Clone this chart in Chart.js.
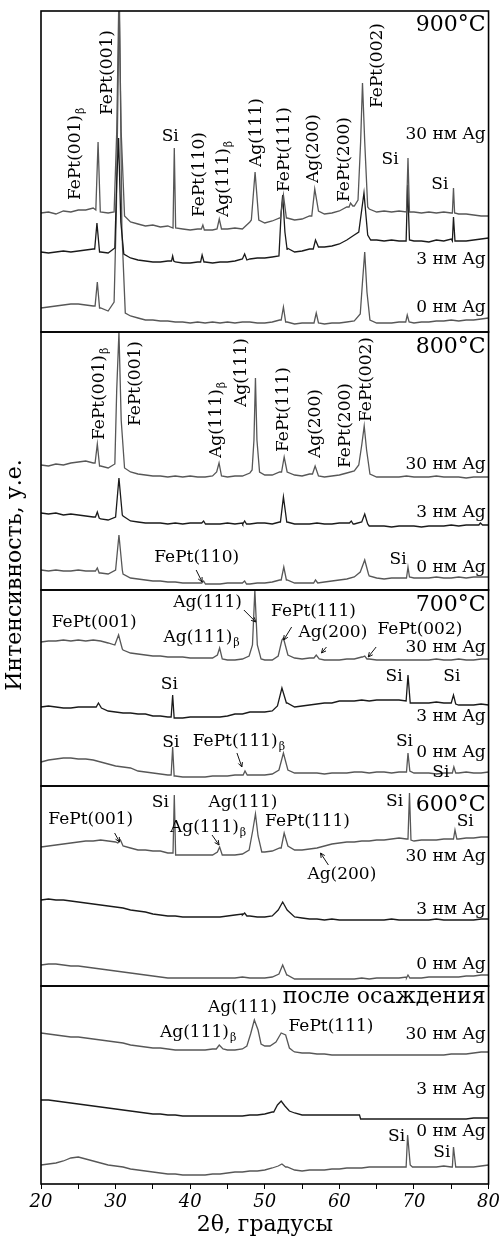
<!DOCTYPE html>
<html lang="ru">
<head>
<meta charset="UTF-8">
<title>XRD FePt / Ag</title>
<script src="https://cdn.jsdelivr.net/npm/chart.js"></script>
<style>
  html, body { margin: 0; padding: 0; background: #fff; }
</style>
</head>
<body>
<canvas id="xrd" width="503" height="1238"></canvas>
<script>
// 2θ range and tick labels
const THETA0 = 20;
const THETA1 = 80;
const tickLabels = [20, 30, 40, 50, 60, 70, 80];

// panels, top to bottom
const panelTitles = ['900°C', '800°C', '700°C', '600°C', 'после осаждения'];
const samples = ['30 нм Ag', '3 нм Ag', '0 нм Ag'];

// baselines: one value per degree, 20..80 (arb. units, counted from panel bottom)
// peaks: groups of [2θ, intensity]
const base900_30 = [119,120,118,121,120,122,122,124,120,119,120,114,110,108,106,107,105,106,104,103,102,103,102,102,103,103,104,103,110,112,109,111,114,114,112,113,116,121,118,119,121,125,126,129,123,120,121,120,121,120,120,119,120,119,120,119,118,118,117,116,116];
const peaks900_30 = [
  [[27.35,122],[27.65,190],[27.95,120]],
  [[29.8,120],[30.15,200],[30.45,340],[30.75,200],[31.2,116]],
  [[37.7,104],[37.87,184],[38.05,104]],
  [[41.5,103],[41.7,107],[41.9,102]],
  [[43.6,103],[43.9,113],[44.2,103]],
  [[48.2,112],[48.7,160],[49.2,112]],
  [[52.1,114],[52.5,137],[52.9,114]],
  [[56.3,116],[56.7,143],[57.2,121]],
  [[61.3,125],[61.5,129],[61.8,126]],
  [[62.5,132],[62.85,190],[63.1,249],[63.4,190],[63.8,125]],
  [[69.0,120],[69.2,174],[69.4,120]],
  [[75.15,119],[75.3,144],[75.45,119]]
];
const base900_3 = [80,79,80,81,80,81,82,83,80,79,84,78,74,72,71,70,70,71,70,69,69,70,70,69,70,70,71,73,73,74,74,75,76,82,80,81,83,86,85,86,88,92,97,110,92,92,91,92,91,91,91,91,90,92,91,93,91,91,92,93,94];
const peaks900_3 = [
  [[27.2,83],[27.5,109],[27.85,80]],
  [[29.9,84],[30.15,150],[30.4,194],[30.7,110],[31.1,78]],
  [[37.5,71],[37.65,76],[37.8,71]],
  [[41.4,70],[41.6,77],[41.85,70]],
  [[47.05,73],[47.3,78],[47.6,72]],
  [[51.9,76],[52.2,120],[52.4,137],[52.7,100],[53.0,84]],
  [[56.5,83],[56.8,92],[57.2,85]],
  [[62.6,100],[63.3,139],[63.8,97],[64.2,92]],
  [[68.95,91],[69.15,147],[69.4,92]],
  [[75.15,91],[75.3,115],[75.5,91]]
];
const base900_0 = [24,25,26,27,28,28,27,26,24,21,25,19,16,14,12,12,11,11,10,10,9,10,9,10,9,10,9,10,10,9,9,10,12,10,8,9,9,10,8,9,9,10,11,20,12,9,9,9,10,10,9,10,10,11,11,12,11,12,12,13,14];
const peaks900_0 = [
  [[27.25,26],[27.55,50],[27.85,24]],
  [[29.8,30],[30.1,120],[30.5,340],[30.85,100],[31.3,19]],
  [[52.2,12],[52.5,25],[52.8,10]],
  [[56.6,9],[56.9,19],[57.2,9]],
  [[62.8,18],[63.1,50],[63.4,80],[63.7,40],[64.1,12]],
  [[68.9,10],[69.1,17],[69.35,10]]
];

const base800_30 = [125,124,126,125,127,128,129,127,124,122,126,122,118,116,115,114,114,113,114,113,114,113,113,114,114,113,114,114,117,135,115,115,118,118,115,114,116,114,113,114,115,117,119,140,115,113,113,113,113,114,113,113,113,114,113,113,113,112,113,113,113];
const peaks800_30 = [
  [[27.25,127],[27.55,146],[27.85,124]],
  [[29.9,126],[30.15,200],[30.45,258],[30.75,170],[31.2,122]],
  [[43.55,118],[43.87,127],[44.2,114]],
  [[48.3,120],[48.55,150],[48.75,212],[48.95,150],[49.3,118]],
  [[52.25,118],[52.6,133],[53.0,118]],
  [[56.4,116],[56.75,124],[57.2,114]],
  [[62.6,125],[63.0,145],[63.33,164],[63.65,140],[64.1,116]]
];
const base800_3 = [77,76,77,75,76,75,74,73,71,70,73,74,69,68,67,67,67,66,67,66,67,67,66,66,66,67,66,67,66,67,67,66,68,68,66,66,66,67,66,66,67,67,66,68,64,64,64,63,64,64,64,63,64,64,64,65,64,65,65,66,65];
const peaks800_3 = [
  [[27.3,73],[27.55,78],[27.8,72]],
  [[30.0,73],[30.45,112],[30.9,75]],
  [[41.55,67],[41.8,69],[42.05,66]],
  [[47.05,66],[47.3,69],[47.55,66]],
  [[52.1,68],[52.5,93],[52.95,68]],
  [[61.35,67],[61.6,69],[61.85,66]],
  [[63.0,68],[63.4,76],[63.8,66]],
  [[78.7,65],[78.9,67],[79.2,65]]
];
const base800_0 = [20,19,20,19,19,20,19,19,17,16,20,16,12,11,10,9,9,8,8,7,7,7,6,6,6,7,7,7,6,7,7,8,10,10,7,7,7,8,8,9,10,11,13,22,14,12,11,12,12,12,12,12,12,13,12,12,13,12,13,13,13];
const peaks800_0 = [
  [[27.3,19],[27.55,22],[27.8,17]],
  [[30.0,20],[30.45,55],[30.9,20]],
  [[41.55,7],[41.8,9],[42.05,6]],
  [[47.05,7],[47.3,9],[47.55,6]],
  [[52.2,10],[52.55,23],[52.9,10]],
  [[56.55,7],[56.8,10],[57.1,7]],
  [[62.8,18],[63.4,30],[63.9,16]],
  [[69.0,12],[69.2,23],[69.4,13]]
];

const base700_30 = [144,145,145,146,145,146,145,146,145,143,141,136,133,132,131,130,130,129,129,129,128,128,128,128,127,126,126,127,128,130,126,126,130,131,128,127,128,128,126,126,126,127,127,129,127,126,126,126,126,126,126,126,126,127,126,126,127,126,126,127,127];
const peaks700_30 = [
  [[29.9,141],[30.4,151],[30.9,137]],
  [[43.65,131],[43.95,138],[44.3,127]],
  [[47.9,130],[48.35,141],[48.67,196],[49.0,141],[49.5,127]],
  [[51.8,130],[52.3,146],[52.5,148],[53.1,131]],
  [[56.6,128],[56.9,131],[57.3,127]],
  [[63.1,129],[63.4,130],[63.7,127]]
];
const base700_3 = [79,80,79,78,78,79,79,79,80,75,74,73,73,72,72,70,70,69,68,68,69,69,69,69,69,70,72,72,74,74,74,75,90,83,79,80,81,82,83,83,85,85,85,86,85,86,86,86,86,85,83,83,83,84,83,83,81,81,81,82,81];
const peaks700_3 = [
  [[27.4,79],[27.7,83],[28.1,78]],
  [[37.45,69],[37.65,91],[37.85,68]],
  [[51.7,80],[52.3,98],[52.9,83]],
  [[68.95,85],[69.2,111],[69.5,83]],
  [[75.1,83],[75.3,91],[75.6,82]]
];
const base700_0 = [24,26,27,28,28,27,27,26,24,22,20,19,18,15,14,13,12,11,10,9,9,9,9,10,10,10,11,11,11,11,11,12,20,16,13,13,13,13,12,13,13,13,14,14,13,14,14,13,14,14,13,13,13,12,13,13,13,14,13,13,14];
const peaks700_0 = [
  [[37.45,11],[37.65,39],[37.85,10]],
  [[47.1,11],[47.35,15],[47.65,11]],
  [[51.9,16],[52.5,33],[53.1,16]],
  [[69.0,14],[69.2,33],[69.45,15]],
  [[75.15,13],[75.35,19],[75.6,13]]
];

const base600_30 = [139,140,141,142,143,144,145,145,146,145,144,140,138,136,136,135,135,133,131,131,131,131,131,131,131,131,131,132,136,150,134,135,138,140,136,136,137,138,140,142,143,144,144,145,145,146,146,147,148,147,145,146,146,146,147,147,147,148,148,149,149];
const peaks600_30 = [
  [[30.3,143],[30.65,146],[31.0,140]],
  [[37.7,133],[37.87,191],[38.05,131]],
  [[43.65,134],[43.95,139],[44.3,131]],
  [[47.9,136],[48.4,156],[48.75,172],[49.1,150],[49.6,134]],
  [[52.2,138],[52.6,153],[53.1,140]],
  [[69.2,147],[69.4,193],[69.6,146]],
  [[75.3,147],[75.5,156],[75.75,147]]
];
const base600_3 = [86,87,86,86,85,84,83,82,81,80,79,78,76,75,74,72,71,70,70,69,69,69,69,69,69,70,71,72,70,69,69,70,82,76,69,68,67,67,66,67,66,66,66,66,66,66,66,67,66,66,66,66,66,67,66,66,66,66,66,67,67];
const peaks600_3 = [
  [[47.0,71],[47.3,73],[47.6,70]],
  [[51.8,76],[52.4,84],[53.0,76]]
];
const base600_0 = [21,22,22,21,20,20,19,18,17,16,15,14,13,12,11,10,9,8,8,8,8,8,8,8,8,8,8,9,8,8,8,9,18,11,7,7,7,7,7,7,7,7,7,8,7,8,8,8,8,9,8,8,9,9,9,9,9,10,10,11,11];
const peaks600_0 = [
  [[51.9,12],[52.4,21],[52.95,11]],
  [[69.0,8],[69.2,11],[69.45,8]]
];

const baseDep_30 = [151,150,149,148,147,147,146,145,144,143,142,141,139,138,137,136,136,135,134,134,134,134,134,135,137,134,134,135,148,156,138,140,149,140,132,131,131,130,130,129,129,129,129,129,129,129,129,129,129,129,129,129,129,129,129,130,130,130,131,132,132];
const peaksDep_30 = [
  [[43.5,135],[43.9,139],[44.4,135]],
  [[47.6,138],[48.1,150],[48.6,164],[49.1,154],[49.5,140],[50.0,138]],
  [[50.7,138],[51.5,142],[52.2,151],[52.8,149],[53.3,136],[53.8,133]]
];
const baseDep_3 = [84,84,83,82,81,80,79,78,77,76,75,74,73,72,71,70,70,69,69,68,68,68,68,68,68,68,68,68,69,69,70,72,83,73,71,69,69,69,69,69,69,69,69,65,65,65,65,65,65,65,65,65,65,65,65,65,65,65,66,66,66];
const peaksDep_3 = [
  [[51.2,72],[51.7,79],[52.2,83],[52.7,78],[53.3,73]],
  [[62.7,69],[62.85,65]]
];
const baseDep_0 = [19,20,21,23,26,27,25,23,21,19,18,17,15,14,13,12,11,10,10,9,9,9,9,10,10,11,12,12,13,13,14,16,20,17,14,13,14,14,14,15,15,16,16,16,17,17,17,17,17,17,17,17,17,17,18,17,17,17,17,18,19];
const peaksDep_0 = [
  [[51.8,18],[52.3,20],[52.8,17]],
  [[68.95,17],[69.15,49],[69.5,19],[69.8,17]],
  [[75.15,17],[75.3,37],[75.6,17]]
];

const traces = [
  [[base900_30, peaks900_30], [base900_3, peaks900_3], [base900_0, peaks900_0]],
  [[base800_30, peaks800_30], [base800_3, peaks800_3], [base800_0, peaks800_0]],
  [[base700_30, peaks700_30], [base700_3, peaks700_3], [base700_0, peaks700_0]],
  [[base600_30, peaks600_30], [base600_3, peaks600_3], [base600_0, peaks600_0]],
  [[baseDep_30, peaksDep_30], [baseDep_3, peaksDep_3], [baseDep_0, peaksDep_0]]
];

// layout
const PANEL_H = [321, 258, 196, 200, 198];
const LINE_COLORS = ['#575757', '#1a1a1a', '#575757'];
const SERIF = '"DejaVu Serif", "Liberation Serif", serif';

// merge baseline and peak groups (baseline points inside a peak group are dropped)
function buildTrace(base, peaks) {
  const pts = [];
  base.forEach((v, i) => {
    const t = THETA0 + i;
    const inside = peaks.some(g => t > g[0][0] && t < g[g.length - 1][0]);
    if (!inside) pts.push({ x: t, y: v });
  });
  peaks.forEach(g => g.forEach(p => pts.push({ x: p[0], y: p[1] })));
  return pts.sort((a, b) => a.x - b.x);
}

const datasets = [];
traces.forEach((panel, pi) => {
  panel.forEach((tr, si) => {
    datasets.push({
      label: panelTitles[pi] + ' ' + samples[si],
      data: buildTrace(tr[0], tr[1]),
      yAxisID: 'p' + pi,
      borderColor: LINE_COLORS[si],
      borderWidth: 1.3,
      pointRadius: 0,
      tension: 0
    });
  });
});

// annotations: [panel, 2θ, intensity, text, subscript, mode]  mode: r = rotated, c = centred, R = right
const R = 79.6;
const notes = [
  [0, 24.7, 132, 'FePt(001)', 'β', 'r'],
  [0, 28.87, 217, 'FePt(001)', '', 'r'],
  [0, 37.33, 195, 'Si', '', 'c'],
  [0, 41.2, 115, 'FePt(110)', '', 'r'],
  [0, 44.5, 115, 'Ag(111)', 'β', 'r'],
  [0, 48.93, 165, 'Ag(111)', '', 'r'],
  [0, 52.67, 140, 'FePt(111)', '', 'r'],
  [0, 56.53, 149, 'Ag(200)', '', 'r'],
  [0, 60.67, 130, 'FePt(200)', '', 'r'],
  [0, 65.07, 224, 'FePt(002)', '', 'r'],
  [0, 66.8, 172, 'Si', '', 'c'],
  [0, 73.47, 147, 'Si', '', 'c'],
  [0, R, 197, samples[0], '', 'R'],
  [0, R, 72, samples[1], '', 'R'],
  [0, R, 24, samples[2], '', 'R'],

  [1, 27.87, 150, 'FePt(001)', 'β', 'r'],
  [1, 32.67, 164, 'FePt(001)', '', 'r'],
  [1, 43.6, 132, 'Ag(111)', 'β', 'r'],
  [1, 46.93, 183, 'Ag(111)', '', 'r'],
  [1, 52.53, 138, 'FePt(111)', '', 'r'],
  [1, 56.8, 132, 'Ag(200)', '', 'r'],
  [1, 60.8, 122, 'FePt(200)', '', 'r'],
  [1, 63.6, 168, 'FePt(002)', '', 'r'],
  [1, 40.87, 32, 'FePt(110)', '', 'c'],
  [1, 67.87, 30, 'Si', '', 'c'],
  [1, R, 125, samples[0], '', 'R'],
  [1, R, 77, samples[1], '', 'R'],
  [1, R, 22, samples[2], '', 'R'],

  [2, 27.13, 163, 'FePt(001)', '', 'c'],
  [2, 42.33, 183, 'Ag(111)', '', 'c'],
  [2, 56.53, 174, 'FePt(111)', '', 'c'],
  [2, 41.53, 148, 'Ag(111)', 'β', 'c'],
  [2, 59.13, 153, 'Ag(200)', '', 'c'],
  [2, 70.8, 156, 'FePt(002)', '', 'c'],
  [2, 37.2, 101, 'Si', '', 'c'],
  [2, 67.33, 109, 'Si', '', 'c'],
  [2, 75.07, 109, 'Si', '', 'c'],
  [2, 37.4, 43, 'Si', '', 'c'],
  [2, 46.53, 44, 'FePt(111)', 'β', 'c'],
  [2, 68.73, 44, 'Si', '', 'c'],
  [2, 73.6, 13, 'Si', '', 'c'],
  [2, R, 138, samples[0], '', 'R'],
  [2, R, 69, samples[1], '', 'R'],
  [2, R, 33, samples[2], '', 'R'],

  [3, 36.0, 183, 'Si', '', 'c'],
  [3, 47.07, 183, 'Ag(111)', '', 'c'],
  [3, 67.4, 184, 'Si', '', 'c'],
  [3, 26.67, 166, 'FePt(001)', '', 'c'],
  [3, 55.73, 164, 'FePt(111)', '', 'c'],
  [3, 76.87, 164, 'Si', '', 'c'],
  [3, 42.4, 158, 'Ag(111)', 'β', 'c'],
  [3, 60.33, 111, 'Ag(200)', '', 'c'],
  [3, R, 129, samples[0], '', 'R'],
  [3, R, 76, samples[1], '', 'R'],
  [3, R, 21, samples[2], '', 'R'],

  [4, 47.0, 176, 'Ag(111)', '', 'c'],
  [4, 41.07, 151, 'Ag(111)', 'β', 'c'],
  [4, 58.87, 157, 'FePt(111)', '', 'c'],
  [4, 67.67, 47, 'Si', '', 'c'],
  [4, 73.73, 31, 'Si', '', 'c'],
  [4, R, 149, samples[0], '', 'R'],
  [4, R, 94, samples[1], '', 'R'],
  [4, R, 52, samples[2], '', 'R']
];
// panel titles: [panel, intensity]
const titlePos = [[0, 307], [1, 243], [2, 181], [3, 181], [4, 187]];

// arrows: [panel, 2θ from, I from, 2θ to, I to]
const arrows = [
  [1, 40.8, 20, 41.6, 8],
  [2, 47.2, 176, 48.8, 164],
  [2, 53.6, 159, 52.53, 146],
  [2, 58.27, 139, 57.6, 133],
  [2, 64.93, 139, 63.87, 129],
  [2, 46.27, 33, 46.93, 19],
  [3, 29.87, 153, 30.53, 144],
  [3, 42.93, 151, 43.87, 141],
  [3, 58.53, 121, 57.47, 133]
];

function drawNote(ctx, x, y, text, sub, mode, size) {
  ctx.save();
  ctx.fillStyle = '#000';
  const main = 'normal ' + size + 'px ' + SERIF;
  const small = 'normal ' + Math.round(size * 0.62) + 'px ' + SERIF;
  ctx.font = main;
  const w = ctx.measureText(text).width;
  ctx.font = small;
  const ws = sub ? ctx.measureText(sub).width + 1 : 0;
  ctx.textBaseline = 'middle';
  ctx.textAlign = 'left';
  let x0 = 0;
  ctx.translate(x, y);
  if (mode === 'r') {
    ctx.rotate(-Math.PI / 2);
  } else {
    x0 = mode === 'R' ? -(w + ws) : -(w + ws) / 2;
  }
  ctx.font = main;
  ctx.fillText(text, x0, 0);
  if (sub) {
    ctx.font = small;
    ctx.fillText(sub, x0 + w + 1, size * 0.32);
  }
  ctx.restore();
}

const xrdDecor = {
  id: 'xrdDecor',
  afterDatasetsDraw(chart) {
    const { ctx, chartArea, scales } = chart;
    const xs = scales.x;
    ctx.save();
    // panel frames
    ctx.strokeStyle = '#000';
    ctx.lineWidth = 1.6;
    PANEL_H.forEach((h, i) => {
      const s = scales['p' + i];
      ctx.strokeRect(chartArea.left, s.top, chartArea.right - chartArea.left, s.bottom - s.top);
    });
    // annotations
    notes.forEach(n => {
      const s = scales['p' + n[0]];
      drawNote(ctx, xs.getPixelForValue(n[1]), s.getPixelForValue(n[2]), n[3], n[4], n[5], 17);
    });
    titlePos.forEach(t => {
      const s = scales['p' + t[0]];
      drawNote(ctx, xs.getPixelForValue(R), s.getPixelForValue(t[1]), panelTitles[t[0]], '', 'R', 22);
    });
    // arrows
    ctx.strokeStyle = '#111';
    ctx.lineWidth = 1;
    arrows.forEach(a => {
      const s = scales['p' + a[0]];
      const x1 = xs.getPixelForValue(a[1]), y1 = s.getPixelForValue(a[2]);
      const x2 = xs.getPixelForValue(a[3]), y2 = s.getPixelForValue(a[4]);
      const ang = Math.atan2(y2 - y1, x2 - x1);
      ctx.beginPath();
      ctx.moveTo(x1, y1);
      ctx.lineTo(x2, y2);
      ctx.moveTo(x2 - 5 * Math.cos(ang - 0.45), y2 - 5 * Math.sin(ang - 0.45));
      ctx.lineTo(x2, y2);
      ctx.lineTo(x2 - 5 * Math.cos(ang + 0.45), y2 - 5 * Math.sin(ang + 0.45));
      ctx.stroke();
    });
    // y axis title
    ctx.translate(15, 575);
    ctx.rotate(-Math.PI / 2);
    ctx.fillStyle = '#000';
    ctx.font = 'normal 22px ' + SERIF;
    ctx.textAlign = 'center';
    ctx.textBaseline = 'middle';
    ctx.fillText('Интенсивность, у.е.', 0, 0);
    ctx.restore();
  }
};

// y scales, one per panel, stacked (bottom panel defined first)
const scales = {
  x: {
    type: 'linear',
    min: THETA0,
    max: THETA1,
    position: 'bottom',
    afterFit: s => { s.height = 54; },
    afterBuildTicks: s => {
      const t = [];
      for (let v = THETA0; v <= THETA1; v += 5) t.push({ value: v });
      s.ticks = t;
    },
    ticks: {
      autoSkip: false,
      maxRotation: 0,
      padding: 3,
      color: '#000',
      font: { family: SERIF, size: 18, style: 'italic' },
      callback: v => tickLabels.includes(v) ? String(v) : ''
    },
    grid: { drawOnChartArea: false, tickLength: 5, color: '#000', lineWidth: 1 },
    border: { display: false },
    title: {
      display: true,
      text: '2θ, градусы',
      color: '#000',
      font: { family: SERIF, size: 22 },
      padding: { top: 0, bottom: 0 }
    }
  }
};
for (let i = PANEL_H.length - 1; i >= 0; i--) {
  scales['p' + i] = {
    type: 'linear',
    position: 'left',
    stack: 'xrd',
    stackWeight: PANEL_H[i],
    min: 0,
    max: PANEL_H[i],
    afterFit: s => { s.width = 0; },
    ticks: { display: false },
    grid: { display: false },
    border: { display: false }
  };
}

new Chart(document.getElementById('xrd'), {
  type: 'line',
  data: { datasets },
  options: {
    responsive: false,
    animation: false,
    devicePixelRatio: 1,
    layout: { padding: { left: 41, right: 12, top: 11, bottom: 0 } },
    plugins: { legend: { display: false }, tooltip: { enabled: false } },
    scales
  },
  plugins: [xrdDecor]
});
</script>
</body>
</html>
